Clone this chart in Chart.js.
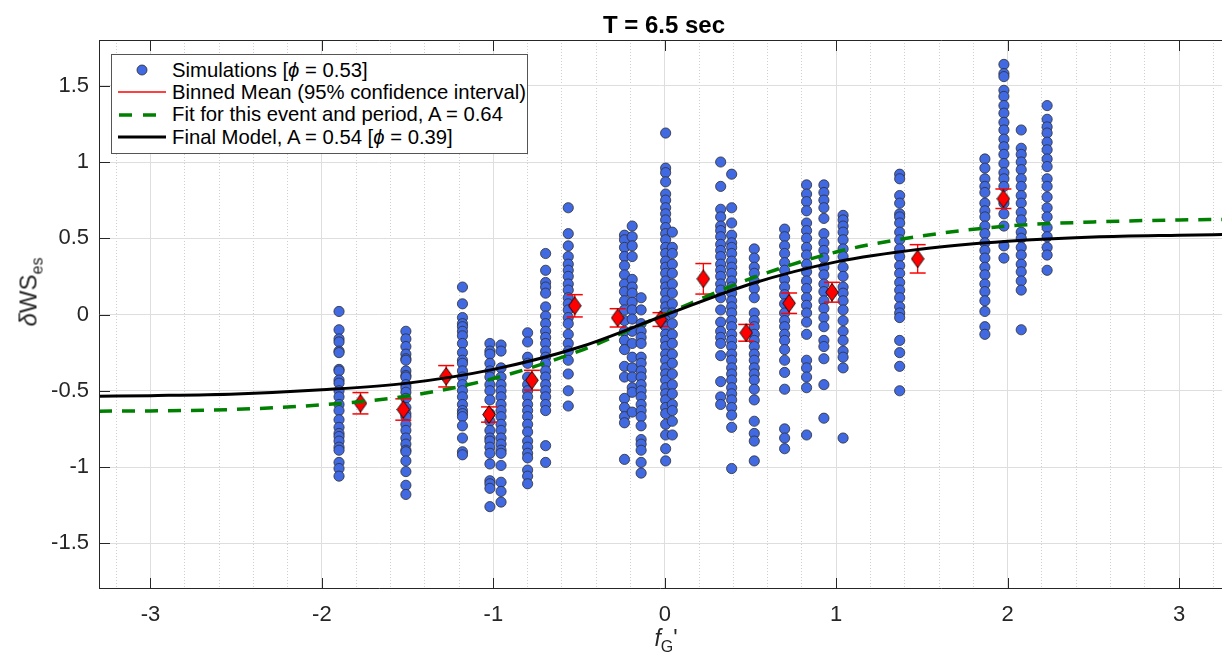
<!DOCTYPE html>
<html>
<head>
<meta charset="utf-8">
<script src="https://cdn.jsdelivr.net/npm/chart.js@4.4.0/dist/chart.umd.min.js"></script>
<style>
  html, body { margin: 0; padding: 0; background: #fff; overflow: hidden; }
  #wrap { position: relative; width: 1222px; height: 652px; font-family: 'Liberation Sans', Arial, sans-serif; }
  #chart { position: absolute; left: 0; top: 0; }
  .lbl { position: absolute; color: #000; white-space: nowrap; }
  #title { left: 514px; width: 300px; top: 11px; text-align: center; font-weight: bold; font-size: 24px; line-height: 28px; }
  #xlabel { left: 616px; width: 100px; top: 627px; text-align: center; font-size: 23px; line-height: 22px; color: #262626; }
  #ylabel { left: 30px; top: 292px; font-size: 24px; line-height: 24px; color: #262626; transform: translate(-50%, -50%) rotate(-90deg); }
  .sub { position: relative; top: 6px; font-size: 16px; }
  #legend { position: absolute; left: 111px; top: 54px; width: 415px; height: 94px; border: 1px solid #555; background: #fff; padding-top: 4px; box-sizing: content-box; }
  .row { display: flex; align-items: center; height: 22.3px; font-size: 20.3px; color: #000; white-space: nowrap; }
  .sym { width: 48px; height: 20px; margin-left: 6px; margin-right: 6px; }
  .sym svg { display: block; }
</style>
</head>
<body>
<div id="wrap">
  <canvas id="chart" width="1222" height="652"></canvas>
  <div id="title" class="lbl">T = 6.5 sec</div>
  <div id="xlabel" class="lbl"><i>f</i><span class="sub">G</span>'</div>
  <div id="ylabel" class="lbl"><i>δ</i>WS<span class="sub">es</span></div>
  <div id="legend">
    <div class="row"><span class="sym"><svg width="48" height="20"><circle cx="24" cy="10" r="5" fill="#4169e1" stroke="#2a2a2a" stroke-width="0.8"/></svg></span><span>Simulations [<i>ϕ</i> = 0.53]</span></div>
    <div class="row"><span class="sym"><svg width="48" height="20"><line x1="0" y1="10" x2="48" y2="10" stroke="#ff0000" stroke-width="1.5"/></svg></span><span>Binned Mean (95% confidence interval)</span></div>
    <div class="row"><span class="sym"><svg width="48" height="20"><line x1="1" y1="10" x2="48" y2="10" stroke="#008000" stroke-width="3.5" stroke-dasharray="13 11"/></svg></span><span>Fit for this event and period, A = 0.64</span></div>
    <div class="row"><span class="sym"><svg width="48" height="20"><line x1="0" y1="10" x2="48" y2="10" stroke="#000" stroke-width="3"/></svg></span><span>Final Model, A = 0.54 [<i>ϕ</i> = 0.39]</span></div>
  </div>
</div>
<script>
// x position of each column of simulations
const simX = [-1.90, -1.51, -1.18, -1.02, -0.955, -0.80, -0.695, -0.563, -0.235, -0.19, -0.138, 0.005, 0.044,
  0.326, 0.39, 0.522, 0.699, 0.827, 0.928, 1.04, 1.37, 1.867, 1.978, 2.079, 2.23];

// y values of the simulations, one list per column
const simY = [
  [0.02, -0.10, -0.16, -0.18, -0.24, -0.25, -0.36, -0.37, -0.43, -0.45, -0.50, -0.54, -0.59, -0.63, -0.69, -0.74, -0.78, -0.80, -0.83, -0.87, -0.89, -0.97, -1.01, -1.06],
  [-0.11, -0.16, -0.21, -0.26, -0.29, -0.30, -0.37, -0.40, -0.41, -0.46, -0.48, -0.51, -0.55, -0.61, -0.65, -0.67, -0.72, -0.76, -0.81, -0.85, -0.89, -0.90, -0.96, -1.03, -1.12, -1.18],
  [0.18, 0.07, -0.02, -0.06, -0.08, -0.11, -0.14, -0.19, -0.25, -0.30, -0.32, -0.37, -0.41, -0.46, -0.50, -0.54, -0.59, -0.63, -0.65, -0.67, -0.73, -0.81, -0.90, -0.92],
  [-0.19, -0.24, -0.26, -0.32, -0.37, -0.41, -0.46, -0.50, -0.56, -0.65, -0.70, -0.76, -0.81, -0.83, -0.87, -0.91, -0.98, -1.09, -1.11, -1.14, -1.26],
  [-0.20, -0.24, -0.35, -0.41, -0.46, -0.50, -0.54, -0.59, -0.63, -0.67, -0.72, -0.76, -0.81, -0.85, -0.89, -0.91, -0.99, -1.10, -1.16, -1.23],
  [-0.12, -0.18, -0.28, -0.32, -0.41, -0.46, -0.50, -0.54, -0.59, -0.63, -0.67, -0.72, -0.77, -0.83, -0.87, -0.91, -0.94, -1.02, -1.06, -1.11],
  [0.40, 0.29, 0.21, 0.18, 0.14, 0.05, -0.01, -0.06, -0.11, -0.15, -0.19, -0.24, -0.28, -0.32, -0.37, -0.41, -0.46, -0.50, -0.54, -0.59, -0.63, -0.86, -0.97],
  [0.70, 0.53, 0.45, 0.38, 0.33, 0.29, 0.25, 0.20, 0.16, 0.11, 0.07, 0.03, -0.02, -0.06, -0.13, -0.19, -0.24, -0.30, -0.39, -0.50, -0.60],
  [0.52, 0.49, 0.44, 0.38, 0.32, 0.26, 0.20, 0.15, 0.09, 0.03, -0.04, -0.11, -0.17, -0.23, -0.34, -0.41, -0.55, -0.61, -0.67, -0.71, -0.95],
  [0.58, 0.51, 0.45, 0.38, 0.23, 0.18, 0.14, 0.08, 0.03, -0.03, -0.11, -0.19, -0.28, -0.35, -0.41, -0.48, -0.51, -0.64],
  [0.11, 0.03, -0.06, -0.11, -0.15, -0.19, -0.28, -0.32, -0.37, -0.41, -0.46, -0.50, -0.54, -0.59, -0.63, -0.67, -0.73, -0.82, -0.85, -0.89, -0.97, -1.04],
  [1.19, 0.96, 0.93, 0.87, 0.79, 0.75, 0.70, 0.66, 0.62, 0.57, 0.53, 0.49, 0.44, 0.40, 0.35, 0.31, 0.27, 0.22, 0.18, 0.14, 0.09, 0.05, 0.01, -0.04, -0.08, -0.13, -0.17, -0.21, -0.26, -0.30, -0.35, -0.39, -0.43, -0.48, -0.52, -0.56, -0.61, -0.65, -0.72, -0.79, -0.88, -0.96],
  [0.54, 0.44, 0.40, 0.33, 0.27, 0.20, 0.14, 0.07, 0.01, -0.06, -0.13, -0.19, -0.26, -0.32, -0.39, -0.46, -0.52, -0.59, -0.63, -0.70, -0.79],
  [1.00, 0.84, 0.69, 0.64, 0.58, 0.55, 0.51, 0.46, 0.42, 0.38, 0.33, 0.29, 0.25, 0.20, 0.16, 0.11, 0.03, -0.05, -0.11, -0.15, -0.19, -0.27, -0.44, -0.54, -0.59],
  [0.92, 0.70, 0.60, 0.52, 0.47, 0.44, 0.40, 0.35, 0.31, 0.27, 0.22, 0.18, 0.14, 0.09, 0.05, 0.01, -0.04, -0.08, -0.13, -0.17, -0.21, -0.26, -0.30, -0.35, -0.39, -0.43, -0.48, -0.52, -0.56, -0.61, -0.66, -0.74, -1.01],
  [0.43, 0.37, 0.31, 0.27, 0.22, 0.17, 0.11, 0.01, -0.04, -0.08, -0.13, -0.17, -0.21, -0.26, -0.30, -0.35, -0.39, -0.43, -0.49, -0.56, -0.70, -0.78, -0.83, -0.96],
  [0.56, 0.51, 0.45, 0.40, 0.34, 0.29, 0.23, 0.18, 0.13, 0.07, 0.01, -0.04, -0.08, -0.13, -0.17, -0.23, -0.30, -0.38, -0.49, -0.75, -0.81, -0.88],
  [0.85, 0.79, 0.74, 0.68, 0.60, 0.55, 0.50, 0.44, 0.39, 0.33, 0.28, 0.22, 0.17, 0.11, 0.06, 0.01, -0.05, -0.13, -0.30, -0.35, -0.41, -0.48, -0.79],
  [0.85, 0.80, 0.75, 0.70, 0.63, 0.53, 0.47, 0.42, 0.37, 0.31, 0.26, 0.20, 0.15, 0.09, 0.04, -0.02, -0.08, -0.17, -0.21, -0.29, -0.46, -0.68],
  [0.65, 0.62, 0.58, 0.54, 0.49, 0.43, 0.38, 0.31, 0.25, 0.18, 0.14, 0.09, 0.03, -0.04, -0.11, -0.17, -0.24, -0.28, -0.35, -0.81],
  [0.92, 0.89, 0.78, 0.73, 0.66, 0.64, 0.60, 0.54, 0.49, 0.43, 0.38, 0.32, 0.27, 0.21, 0.16, 0.11, 0.05, 0.01, -0.02, -0.17, -0.25, -0.34, -0.50],
  [1.02, 0.96, 0.89, 0.84, 0.80, 0.73, 0.68, 0.64, 0.58, 0.53, 0.47, 0.42, 0.37, 0.31, 0.26, 0.20, 0.15, 0.09, 0.02, -0.08, -0.13],
  [1.64, 1.58, 1.56, 1.47, 1.43, 1.37, 1.32, 1.26, 1.21, 1.15, 1.10, 1.05, 0.99, 0.93, 0.89, 0.84, 0.73, 0.66, 0.58, 0.45, 0.37],
  [1.21, 1.09, 1.05, 1.00, 0.95, 0.89, 0.84, 0.78, 0.73, 0.67, 0.62, 0.54, 0.50, 0.44, 0.39, 0.33, 0.28, 0.22, 0.16, -0.10],
  [1.37, 1.28, 1.23, 1.19, 1.13, 1.08, 1.02, 0.97, 0.89, 0.84, 0.77, 0.70, 0.64, 0.57, 0.51, 0.44, 0.39, 0.29]
];

// binned means with half width of the 95% interval
const binX = [-1.775, -1.525, -1.275, -1.025, -0.775, -0.525, -0.275, -0.025, 0.225, 0.475, 0.725, 0.975, 1.475, 1.975];
const binMean = [-0.582, -0.623, -0.405, -0.656, -0.431, 0.057, -0.022, -0.033, 0.234, -0.120, 0.074, 0.146, 0.365, 0.759];
const binErr = [0.070, 0.070, 0.070, 0.050, 0.065, 0.073, 0.060, 0.045, 0.100, 0.055, 0.067, 0.065, 0.093, 0.064];

// curves
const curveX = [-3.3, -3.0, -2.5, -2.0, -1.5, -1.0, -0.5, 0, 0.5, 1.0, 1.5, 2.0, 2.5, 3.0, 3.3];
const fitY = [-0.634, -0.632, -0.622, -0.592, -0.535, -0.420, -0.240, 0.0, 0.235, 0.410, 0.515, 0.580, 0.607, 0.620, 0.624];
const finalY = [-0.536, -0.532, -0.521, -0.494, -0.450, -0.360, -0.215, -0.005, 0.200, 0.345, 0.430, 0.480, 0.508, 0.520, 0.525];

// axis ticks
const xMajor = [-3, -2, -1, 0, 1, 2, 3];
const yTicks = [-1.5, -1, -0.5, 0, 0.5, 1, 1.5];

// minor grid every 0.2 on x
const xGrid = [];
for (let k = -16; k <= 16; k++) xGrid.push(Math.round(k * 2) / 10);
const isMajor = v => Math.abs(v - Math.round(v)) < 1e-6;

// points
const simPoints = [];
simX.forEach((x, i) => simY[i].forEach(y => simPoints.push({ x, y })));

const meanPoints = binX.map((x, i) => ({ x, y: binMean[i] }));
const errLines = [];
binX.forEach((x, i) => {
    errLines.push({ x, y: binMean[i] - binErr[i] });
    errLines.push({ x, y: binMean[i] + binErr[i] });
    errLines.push({ x, y: null });
});
const capLo = binX.map((x, i) => ({ x, y: binMean[i] - binErr[i] }));
const capHi = binX.map((x, i) => ({ x, y: binMean[i] + binErr[i] }));

// diamond marker, taller than wide like the matlab one
const diamond = document.createElement('canvas');
diamond.width = 14; diamond.height = 19;
(function () {
    const c = diamond.getContext('2d');
    c.beginPath();
    c.moveTo(7, 0.7); c.lineTo(13.3, 9.5); c.lineTo(7, 18.3); c.lineTo(0.7, 9.5); c.closePath();
    c.fillStyle = '#ff0000'; c.fill();
    c.strokeStyle = '#000'; c.lineWidth = 0.9; c.stroke();
})();

// axes box and inward ticks
const axesFrame = {
    id: 'axesFrame',
    afterDatasetsDraw(chart) {
        const { ctx, chartArea: a, scales } = chart;
        ctx.save();
        ctx.strokeStyle = '#262626';
        ctx.lineWidth = 1;
        ctx.beginPath();
        ctx.moveTo(a.left, a.top + 0.5); ctx.lineTo(a.right, a.top + 0.5);
        ctx.moveTo(a.left + 0.5, a.top); ctx.lineTo(a.left + 0.5, a.bottom);
        ctx.moveTo(a.left, a.bottom - 0.5); ctx.lineTo(a.right, a.bottom - 0.5);
        xMajor.forEach(v => {
            const px = Math.round(scales.x.getPixelForValue(v)) + 0.5;
            ctx.moveTo(px, a.bottom); ctx.lineTo(px, a.bottom - 11);
            ctx.moveTo(px, a.top); ctx.lineTo(px, a.top + 11);
        });
        yTicks.forEach(v => {
            const py = Math.round(scales.y.getPixelForValue(v)) + 0.5;
            ctx.moveTo(a.left, py); ctx.lineTo(a.left + 11, py);
        });
        ctx.stroke();
        ctx.restore();
    }
};

new Chart(document.getElementById('chart'), {
    type: 'scatter',
    data: {
        datasets: [
            {
                type: 'line', label: 'Final Model', data: curveX.map((x, i) => ({ x, y: finalY[i] })),
                borderColor: '#000', borderWidth: 3, pointRadius: 0, cubicInterpolationMode: 'monotone', order: 0
            },
            {
                type: 'line', label: 'Fit', data: curveX.map((x, i) => ({ x, y: fitY[i] })),
                borderColor: '#008000', borderWidth: 3.5, borderDash: [13, 10], borderCapStyle: 'butt',
                pointRadius: 0, cubicInterpolationMode: 'monotone', order: 1
            },
            {
                label: 'Binned Mean', data: meanPoints, pointStyle: diamond, pointRadius: 8, order: 2
            },
            {
                type: 'line', label: 'err', data: errLines, borderColor: '#ff0000', borderWidth: 1.3,
                pointRadius: 0, spanGaps: false, order: 3
            },
            {
                label: 'capLo', data: capLo, pointStyle: 'line', pointRadius: 8, borderColor: '#ff0000', borderWidth: 1.5, order: 3
            },
            {
                label: 'capHi', data: capHi, pointStyle: 'line', pointRadius: 8, borderColor: '#ff0000', borderWidth: 1.5, order: 3
            },
            {
                label: 'Simulations', data: simPoints, pointRadius: 5.1, backgroundColor: '#4169e1',
                borderColor: '#2e2e2e', borderWidth: 0.8, order: 4
            }
        ]
    },
    options: {
        responsive: false,
        animation: false,
        devicePixelRatio: 1,
        layout: { autoPadding: false, padding: { left: 0, right: 0, top: 40, bottom: 0 } },
        plugins: { legend: { display: false }, tooltip: { enabled: false }, title: { display: false } },
        scales: {
            x: {
                type: 'linear', min: -3.3, max: 3.25,
                afterFit: s => { s.height = 63; s.paddingLeft = 0; s.paddingRight = 0; },
                afterBuildTicks: s => { s.ticks = xGrid.map(v => ({ value: v })); },
                ticks: {
                    autoSkip: false, maxRotation: 0, padding: 13, color: '#262626',
                    font: { family: "'Liberation Sans', Arial, sans-serif", size: 22 },
                    callback: v => isMajor(v) ? String(Math.round(v)) : ''
                },
                grid: {
                    drawTicks: false,
                    color: c => isMajor(c.tick.value) ? '#dedede' : '#cfcfcf',
                    lineWidth: 1
                },
                border: { display: false, dash: c => (c.tick && !isMajor(c.tick.value)) ? [1, 2] : [] }
            },
            y: {
                min: -1.8, max: 1.8,
                afterFit: s => { s.width = 99; s.paddingTop = 0; s.paddingBottom = 0; },
                afterBuildTicks: s => { s.ticks = yTicks.map(v => ({ value: v })); },
                ticks: {
                    padding: 10, color: '#262626',
                    font: { family: "'Liberation Sans', Arial, sans-serif", size: 22 },
                    callback: v => String(v)
                },
                grid: { drawTicks: false, color: '#dedede', lineWidth: 1 },
                border: { display: false }
            }
        }
    },
    plugins: [axesFrame]
});
</script>
</body>
</html>
